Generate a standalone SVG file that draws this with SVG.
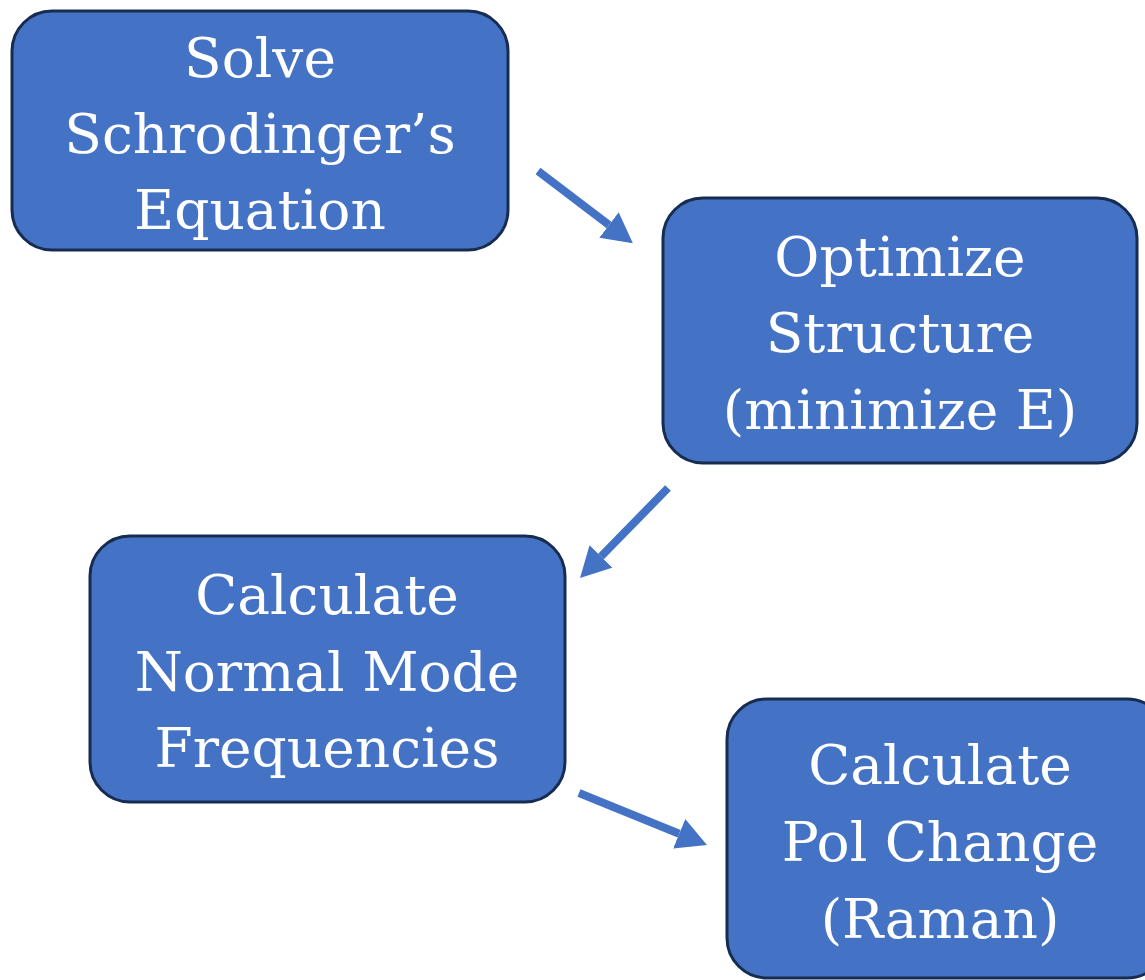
<svg xmlns="http://www.w3.org/2000/svg" width="1145" height="980" viewBox="0 0 1145 980">
<style>
.box{fill:#4472C4;stroke:#172C51;stroke-width:3}
.lbl{font-family:"DejaVu Serif","Liberation Serif",serif;font-size:55px;fill:#ffffff;text-anchor:middle}
.conn{stroke:#4472C4;stroke-width:8;fill:none;marker-end:url(#ah)}
</style>
<defs>
<marker id="ah" markerUnits="userSpaceOnUse" markerWidth="30" markerHeight="32" refX="0" refY="16" orient="auto">
<path d="M0,0 L30,16 L0,32 z" fill="#4472C4"/>
</marker>
</defs>
<rect width="1145" height="980" fill="#ffffff"/>
<g id="n1">
<rect class="box" x="12" y="11" width="496" height="239" rx="40"/>
<text class="lbl" x="260" y="77">Solve</text>
<text class="lbl" x="260" y="153">Schrodinger’s</text>
<text class="lbl" x="260" y="229">Equation</text>
</g>
<g id="n2">
<rect class="box" x="663" y="198" width="474" height="265" rx="40"/>
<text class="lbl" x="900" y="276">Optimize</text>
<text class="lbl" x="900" y="352">Structure</text>
<text class="lbl" x="900" y="429">(minimize E)</text>
</g>
<g id="n3">
<rect class="box" x="90" y="536" width="475" height="266" rx="40"/>
<text class="lbl" x="327" y="614">Calculate</text>
<text class="lbl" x="327" y="691">Normal Mode</text>
<text class="lbl" x="327" y="767">Frequencies</text>
</g>
<g id="n4">
<rect class="box" x="727" y="699" width="440" height="279" rx="40"/>
<text class="lbl" x="940" y="784">Calculate</text>
<text class="lbl" x="940" y="861">Pol Change</text>
<text class="lbl" x="940" y="938">(Raman)</text>
</g>
<g id="connectors">
<line class="conn" x1="538" y1="171" x2="609" y2="225"/>
<line class="conn" x1="668" y1="488" x2="601" y2="556.5"/>
<line class="conn" x1="579" y1="793" x2="679.2" y2="833.8"/>
</g>
</svg>
